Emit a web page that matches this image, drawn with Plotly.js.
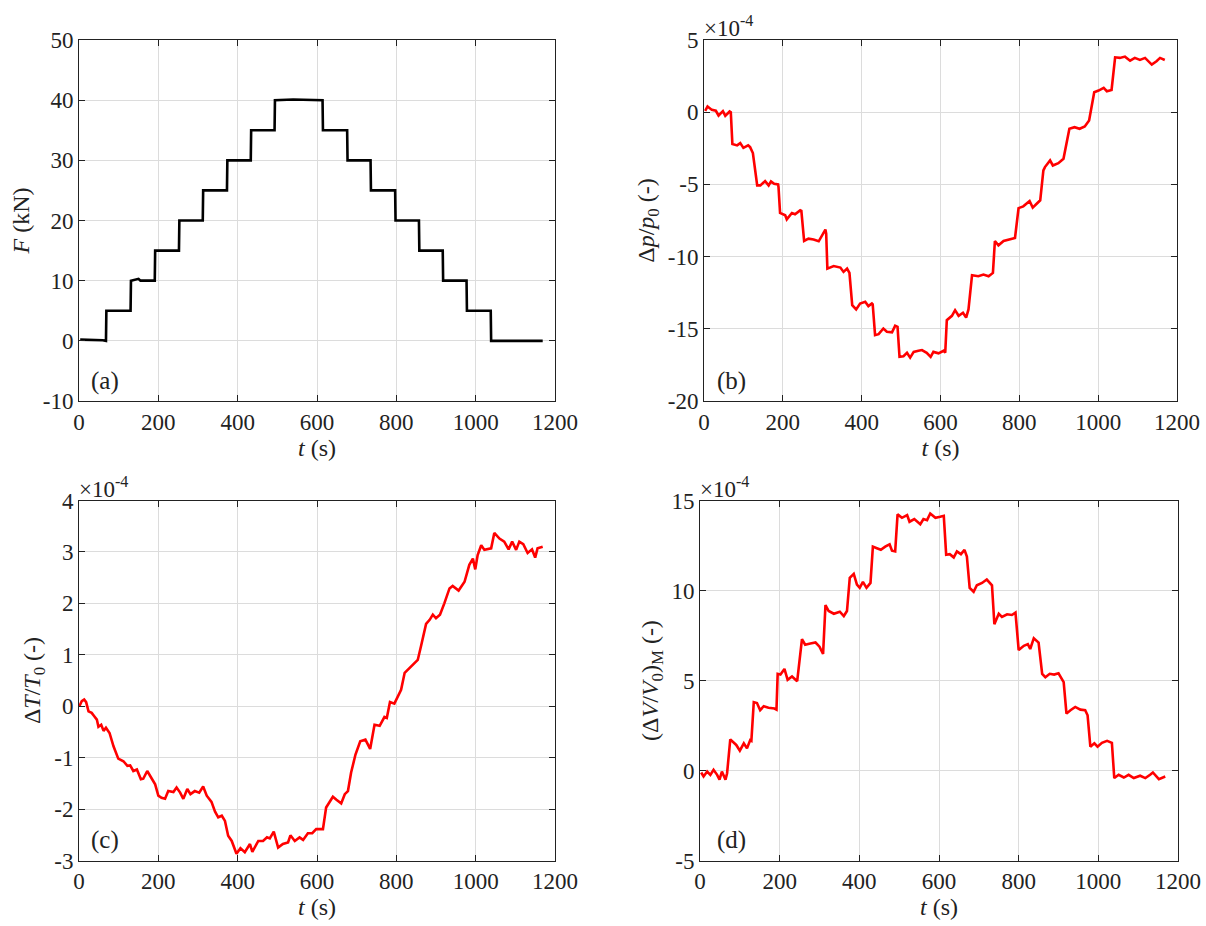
<!DOCTYPE html>
<html>
<head>
<meta charset="utf-8">
<script src="https://cdn.plot.ly/plotly-3.0.1.min.js"></script>
<style>html,body{margin:0;padding:0;background:#fff;}#chart{width:1206px;height:926px;}</style>
</head>
<body>
<div id="chart"></div>
<script>
// ---- Panel (a): force F (kN) ----
const tA = [3, 30, 60, 68, 69, 100, 130, 131, 150, 155, 191, 192, 252, 253, 312, 313, 373, 374, 433, 434, 493, 494, 540, 614, 615, 676, 677, 735, 736, 797, 798, 857, 858, 917, 918, 977, 978, 1038, 1039, 1169];
const fA = [0.2, 0.2, 0.1, 0, 5, 5, 5, 10, 10.3, 10, 10, 15, 15, 20, 20, 25, 25, 30, 30, 35, 35, 40, 40.1, 40, 35, 35, 30, 30, 25, 25, 20, 20, 15, 15, 10, 10, 5, 5, 0, 0];

// ---- Panel (b): Δp/p0 (×1e-4) ----
const tB = [3, 9, 20, 30, 37, 48, 54, 65, 68, 72, 84, 92, 100, 112, 117, 124, 135, 143, 155, 164, 170, 178, 188, 189, 193, 206, 210, 223, 231, 244, 247, 254, 265, 278, 291, 299, 308, 310, 313, 329, 346, 354, 363, 369, 376, 386, 396, 409, 417, 426, 428, 434, 443, 455, 464, 477, 485, 491, 496, 506, 515, 523, 532, 544, 553, 565, 575, 582, 595, 608, 612, 616, 629, 637, 646, 657, 665, 671, 680, 696, 709, 722, 733, 738, 747, 760, 772, 789, 798, 810, 826, 834, 844, 853, 861, 865, 878, 885, 899, 912, 927, 940, 953, 966, 977, 990, 1001, 1005, 1014, 1022, 1034, 1043, 1055, 1068, 1081, 1093, 1106, 1119, 1136, 1148, 1157, 1169];
const vB = [0.1, 0.4, 0.16, 0.1, -0.23, 0.07, -0.25, 0.05, 0, -2.2, -2.3, -2.14, -2.47, -2.3, -2.42, -2.83, -5.07, -5.07, -4.77, -5.07, -4.79, -4.95, -5.0, -5.18, -6.98, -7.14, -7.42, -6.98, -7.07, -6.8, -6.84, -8.92, -8.76, -8.82, -8.94, -8.53, -8.13, -8.41, -10.83, -10.65, -10.76, -11.06, -10.83, -11.13, -13.36, -13.66, -13.25, -13.13, -13.43, -13.25, -13.3, -15.44, -15.37, -14.98, -15.2, -15.25, -14.79, -14.86, -16.94, -16.9, -16.66, -17.0, -16.6, -16.52, -16.47, -16.66, -16.94, -16.6, -16.7, -16.52, -16.66, -14.4, -14.1, -13.71, -14.1, -13.89, -14.22, -13.66, -11.29, -11.36, -11.24, -11.36, -11.13, -8.92, -9.22, -8.92, -8.82, -8.71, -6.64, -6.52, -6.15, -6.61, -6.34, -6.1, -4.03, -3.8, -3.34, -3.69, -3.53, -3.23, -1.15, -1.04, -1.15, -0.99, -0.58, 1.38, 1.5, 1.54, 1.68, 1.45, 1.54, 3.8, 3.76, 3.85, 3.57, 3.76, 3.62, 3.76, 3.3, 3.53, 3.76, 3.62];

// ---- Panel (c): ΔT/T0 (×1e-4) ----
const tC = [1, 7, 13, 18, 24, 32, 38, 45, 49, 56, 62, 68, 77, 87, 99, 112, 122, 129, 137, 146, 156, 162, 172, 183, 192, 200, 208, 217, 225, 238, 246, 255, 263, 273, 281, 292, 303, 313, 322, 334, 343, 351, 360, 368, 376, 385, 397, 407, 418, 431, 437, 452, 464, 474, 481, 491, 502, 514, 527, 533, 544, 556, 565, 577, 588, 598, 615, 623, 640, 649, 661, 670, 678, 686, 697, 709, 722, 734, 745, 758, 770, 776, 784, 795, 804, 812, 821, 829, 842, 854, 862, 875, 884, 892, 900, 910, 921, 934, 942, 957, 972, 984, 993, 999, 1005, 1014, 1022, 1039, 1047, 1060, 1072, 1083, 1092, 1102, 1110, 1120, 1131, 1142, 1150, 1156, 1169];
const vC = [0, 0.1, 0.13, 0.08, -0.1, -0.13, -0.19, -0.26, -0.4, -0.36, -0.48, -0.42, -0.52, -0.78, -1.02, -1.07, -1.16, -1.15, -1.26, -1.23, -1.42, -1.41, -1.26, -1.41, -1.52, -1.74, -1.78, -1.8, -1.65, -1.67, -1.58, -1.68, -1.8, -1.61, -1.71, -1.65, -1.68, -1.56, -1.74, -1.86, -2.05, -2.16, -2.13, -2.23, -2.52, -2.62, -2.87, -2.76, -2.84, -2.68, -2.83, -2.62, -2.62, -2.55, -2.57, -2.44, -2.75, -2.68, -2.65, -2.51, -2.62, -2.55, -2.6, -2.47, -2.47, -2.39, -2.39, -1.97, -1.76, -1.82, -1.89, -1.71, -1.65, -1.29, -0.94, -0.68, -0.65, -0.83, -0.36, -0.38, -0.21, -0.23, 0.08, 0.05, 0.19, 0.32, 0.65, 0.71, 0.79, 0.9, 1.16, 1.6, 1.68, 1.78, 1.71, 1.78, 2.0, 2.29, 2.34, 2.25, 2.42, 2.75, 2.87, 2.66, 2.94, 3.13, 3.04, 3.07, 3.37, 3.26, 3.2, 3.05, 3.2, 3.04, 3.2, 3.15, 2.98, 3.05, 2.89, 3.07, 3.1];

// ---- Panel (d): (ΔV/V0)_M (×1e-4) ----
const tD = [3, 9, 18, 26, 34, 43, 49, 55, 64, 68, 76, 83, 91, 100, 110, 118, 126, 129, 135, 143, 151, 160, 172, 187, 192, 195, 202, 212, 220, 231, 244, 256, 264, 277, 290, 300, 309, 315, 323, 336, 351, 361, 369, 376, 386, 394, 401, 409, 418, 428, 434, 444, 454, 465, 476, 482, 490, 496, 507, 520, 526, 538, 553, 561, 570, 578, 591, 603, 612, 618, 627, 637, 645, 655, 664, 670, 677, 687, 695, 708, 720, 733, 739, 750, 758, 771, 783, 792, 800, 813, 823, 829, 838, 850, 859, 867, 878, 889, 900, 913, 920, 930, 942, 955, 967, 973, 980, 990, 998, 1009, 1022, 1034, 1040, 1051, 1064, 1076, 1089, 1105, 1118, 1130, 1137, 1152, 1168];
const vD = [-0.11, -0.33, -0.06, -0.24, 0.04, -0.24, -0.51, -0.06, -0.51, -0.15, 1.73, 1.6, 1.42, 1.1, 1.51, 1.23, 1.69, 1.65, 3.8, 3.75, 3.35, 3.57, 3.49, 3.44, 3.38, 5.37, 5.33, 5.64, 5.04, 5.22, 4.96, 7.3, 6.99, 7.06, 7.11, 6.88, 6.47, 9.19, 8.86, 8.71, 8.82, 8.58, 8.86, 10.7, 10.92, 10.33, 10.15, 10.48, 10.15, 10.42, 12.44, 12.35, 12.26, 12.44, 12.57, 12.21, 12.17, 14.23, 14.04, 14.19, 13.82, 13.97, 13.68, 13.97, 13.91, 14.28, 14.04, 14.1, 14.15, 11.99, 12.02, 11.84, 12.17, 12.02, 12.26, 11.89, 10.15, 9.93, 10.29, 10.42, 10.61, 10.29, 8.13, 8.71, 8.53, 8.68, 8.64, 8.77, 6.69, 6.93, 7.02, 6.75, 7.35, 7.11, 5.37, 5.18, 5.37, 5.33, 5.4, 4.91, 3.16, 3.35, 3.53, 3.38, 3.35, 3.07, 1.32, 1.51, 1.32, 1.54, 1.65, 1.54, -0.42, -0.24, -0.39, -0.24, -0.42, -0.29, -0.42, -0.24, -0.11, -0.48, -0.33];

// ---- tick labels ----
const xTicks = [0, 200, 400, 600, 800, 1000, 1200];
const xTickText = ['0', '200', '400', '600', '800', '1000', '1200'];
const yTicksA = [-10, 0, 10, 20, 30, 40, 50];
const yTickTextA = ['-10', '0', '10', '20', '30', '40', '50'];
const yTicksB = [-20, -15, -10, -5, 0, 5];
const yTickTextB = ['-20', '-15', '-10', '-5', '0', '5'];
const yTicksC = [-3, -2, -1, 0, 1, 2, 3, 4];
const yTickTextC = ['-3', '-2', '-1', '0', '1', '2', '3', '4'];
const yTicksD = [-5, 0, 5, 10, 15];
const yTickTextD = ['-5', '0', '5', '10', '15'];

const FONT = '"Liberation Serif", "Times New Roman", serif';
const W = 1206, H = 926;
const px = v => v / W;
const py = v => 1 - v / H;

const dom = {
  xa: [px(79), px(555)], xb: [px(704), px(1177)],
  xc: [px(79), px(555)], xd: [px(700), px(1178)],
  top: [py(401), py(40)], bot: [py(860.5), py(500.5)]
};

function xaxis(domain, anchor) {
  return {
    domain: domain, anchor: anchor, range: [0, 1200],
    tickmode: 'array', tickvals: xTicks, ticktext: xTickText,
    ticks: 'inside', ticklen: 6, tickcolor: '#222', tickwidth: 1,
    showline: true, linecolor: '#222', linewidth: 1, mirror: 'ticks',
    showgrid: true, gridcolor: '#dcdcdc', gridwidth: 1, zeroline: false,
    tickfont: {family: FONT, size: 23, color: '#222'},
    title: {text: '<i>t</i> (s)', font: {family: FONT, size: 24, color: '#222'}, standoff: 2},
    automargin: false, fixedrange: true
  };
}
function yaxis(domain, anchor, range, vals, text, title) {
  return {
    domain: domain, anchor: anchor, range: range,
    tickmode: 'array', tickvals: vals, ticktext: text,
    ticks: 'inside', ticklen: 6, tickcolor: '#222', tickwidth: 1,
    showline: true, linecolor: '#222', linewidth: 1, mirror: 'ticks',
    showgrid: true, gridcolor: '#dcdcdc', gridwidth: 1, zeroline: false,
    tickfont: {family: FONT, size: 23, color: '#222'},
    title: {text: title, font: {family: FONT, size: 24, color: '#222'}, standoff: 6},
    automargin: false, fixedrange: true
  };
}

const traces = [
  {x: tA, y: fA, xaxis: 'x', yaxis: 'y', type: 'scatter', mode: 'lines', line: {color: '#000000', width: 2.6}},
  {x: tB, y: vB, xaxis: 'x2', yaxis: 'y2', type: 'scatter', mode: 'lines', line: {color: '#ff0000', width: 2.6}},
  {x: tC, y: vC, xaxis: 'x3', yaxis: 'y3', type: 'scatter', mode: 'lines', line: {color: '#ff0000', width: 2.6}},
  {x: tD, y: vD, xaxis: 'x4', yaxis: 'y4', type: 'scatter', mode: 'lines', line: {color: '#ff0000', width: 2.6}}
];

const annFont = {family: FONT, size: 23, color: '#222'};
function expo(xl, ytop) {
  return {xref: 'paper', yref: 'paper', x: xl, y: ytop, xanchor: 'left', yanchor: 'bottom',
    text: '×10<sup>-4</sup>', showarrow: false, font: annFont, yshift: -3};
}
function lab(t, xl, yc) {
  return {xref: 'paper', yref: 'paper', x: xl, y: yc, xanchor: 'left', yanchor: 'middle',
    text: t, showarrow: false, font: {family: FONT, size: 25, color: '#222'}};
}

const layout = {
  width: W, height: H,
  margin: {l: 0, r: 0, t: 0, b: 0},
  paper_bgcolor: '#ffffff', plot_bgcolor: '#ffffff',
  showlegend: false,
  font: {family: FONT, color: '#222'},
  xaxis: xaxis(dom.xa, 'y'),
  yaxis: yaxis(dom.top, 'x', [-10, 50], yTicksA, yTickTextA, '<i>F</i> (kN)'),
  xaxis2: xaxis(dom.xb, 'y2'),
  yaxis2: yaxis(dom.top, 'x2', [-20, 5], yTicksB, yTickTextB, 'Δ<i>p</i>/<i>p</i><sub>0</sub> (-)'),
  xaxis3: xaxis(dom.xc, 'y3'),
  yaxis3: yaxis(dom.bot, 'x3', [-3, 4], yTicksC, yTickTextC, 'Δ<i>T</i>/<i>T</i><sub>0</sub> (-)'),
  xaxis4: xaxis(dom.xd, 'y4'),
  yaxis4: yaxis(dom.bot, 'x4', [-5, 15], yTicksD, yTickTextD, '(Δ<i>V</i>/<i>V</i><sub>0</sub>)<sub>M</sub> (-)'),
  annotations: [
    expo(px(702), dom.top[1]),
    expo(px(77), dom.bot[1]),
    expo(px(698), dom.bot[1]),
    lab('(a)', px(89), py(381)),
    lab('(b)', px(715), py(381)),
    lab('(c)', px(89), py(840)),
    lab('(d)', px(715), py(840))
  ]
};

Plotly.newPlot('chart', traces, layout, {displayModeBar: false, staticPlot: true});
</script>
</body>
</html>
